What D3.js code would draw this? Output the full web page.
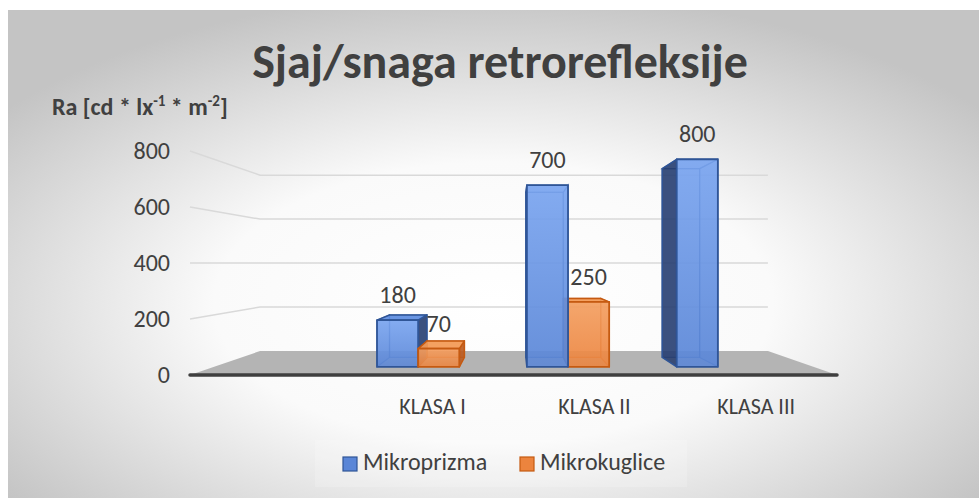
<!DOCTYPE html>
<html>
<head>
<meta charset="utf-8">
<script src="https://cdn.jsdelivr.net/npm/d3@7"></script>
<style>
  html, body { margin: 0; padding: 0; background: #fff; }
  svg { display: block; }
  text { font-family: Calibri, Carlito, Lato, "Open Sans", sans-serif; fill: #404040; }
</style>
</head>
<body>
<svg id="chart" width="979" height="498"></svg>
<script>
// Chart values.
var categories = ["", "KLASA I", "KLASA II", "KLASA III"]; // first category is empty in the source sheet
var seriesNames = ["Mikroprizma", "Mikrokuglice"];
var mikroprizma = [null, 180, 700, 800];
var mikrokuglice = [null, 70, 250, null];
var yTicks = [0, 200, 400, 600, 800];
var yTitle = ["Ra [cd * lx", "-1", " * m", "-2", "]"];

var seriesColors = [
  { front: ["#7ba6f1", "#5a86d7"], top: "#5f8ee0", side: "#23396b", stroke: "#2f5597" },
  { front: ["#f4a062", "#ec843e"], top: "#f39b58", side: "#b9561a", stroke: "#c55a11" }
];

var width = 979, height = 498;
var svg = d3.select("#chart");
var defs = svg.append("defs");

// Background: radial grey gradient, like the Excel chart style.
var bg = defs.append("radialGradient")
  .attr("id", "bgGrad")
  .attr("cx", 0.5).attr("cy", 0.6).attr("r", 0.64);
bg.append("stop").attr("offset", "0").attr("stop-color", "#ffffff");
bg.append("stop").attr("offset", "0.45").attr("stop-color", "#fafafa");
bg.append("stop").attr("offset", "1").attr("stop-color", "#c4c4c4");

seriesColors.forEach(function(c, i) {
  var g = defs.append("linearGradient")
    .attr("id", "front" + i)
    .attr("x1", 0).attr("y1", 0).attr("x2", 0).attr("y2", 1);
  g.append("stop").attr("offset", "0").attr("stop-color", c.front[0]);
  g.append("stop").attr("offset", "1").attr("stop-color", c.front[1]);
});

svg.append("rect")
  .attr("x", 8).attr("y", 10)
  .attr("width", width - 8).attr("height", height - 10)
  .attr("fill", "url(#bgGrad)");

// Scales work in the front plane of the 3D box; project() maps them into perspective.
var x = d3.scaleBand()
  .domain(categories)
  .range([190, 837])
  .paddingInner(0.176)
  .paddingOuter(0.088);

// Three slots per category: the workbook holds a third, empty series.
var xSeries = d3.scaleBand()
  .domain([0, 1, 2])
  .range([0, x.bandwidth()]);

var y = d3.scaleLinear()
  .domain([0, 800])
  .range([375, 151]);

var vp = { x: 515.8, y: 263.3 };
var depthK = 0.274;
var zFront = 0.29, zBack = 0.68;

function project(X, Y, z) {
  var s = 1 / (1 + depthK * z);
  return [vp.x + (X - vp.x) * s, vp.y + (Y - vp.y) * s];
}

function poly(points) {
  return points.map(function(p) { return p[0].toFixed(2) + "," + p[1].toFixed(2); }).join(" ");
}

var x0 = x.range()[0], x1 = x.range()[1];
var y0 = y(0);

// Gridlines on the back wall and the left wall.
var grid = svg.append("g");
yTicks.filter(function(t) { return t > 0; }).forEach(function(t) {
  var a = project(x0, y(t), 0), b = project(x0, y(t), 1), c = project(x1, y(t), 1);
  grid.append("polyline")
    .attr("points", poly([a, b, c]))
    .attr("fill", "none")
    .attr("stroke", "#d9d9d9")
    .attr("stroke-width", 1.5);
});

// Floor.
svg.append("polygon")
  .attr("points", poly([project(x0, y0, 0), project(x1, y0, 0), project(x1, y0, 1), project(x0, y0, 1)]))
  .attr("fill", "#b4b4b4");
svg.append("line")
  .attr("x1", project(x0, y0, 0)[0]).attr("y1", y0)
  .attr("x2", project(x1, y0, 0)[0]).attr("y2", y0)
  .attr("stroke", "#3f3f3f")
  .attr("stroke-width", 3.5)
  .attr("stroke-linecap", "round");

// Y tick labels.
svg.append("g").selectAll("text")
  .data(yTicks)
  .enter().append("text")
    .attr("x", 170)
    .attr("y", function(d) { return y(d) + 8; })
    .attr("text-anchor", "end")
    .style("font-size", "24px")
    .text(function(d) { return d; });

// Build the bar boxes.
var bars = [];
[mikroprizma, mikrokuglice].forEach(function(values, si) {
  values.forEach(function(v, ci) {
    if (v == null) return;
    var xa = x(categories[ci]) + xSeries(si);
    var xb = xa + xSeries.bandwidth();
    bars.push({ series: si, value: v, xa: xa, xb: xb, cx: (xa + xb) / 2 });
  });
});

// Paint the ones furthest from the vanishing point first.
bars.sort(function(a, b) { return Math.abs(b.cx - vp.x) - Math.abs(a.cx - vp.x); });

var barGroup = svg.append("g");
bars.forEach(function(d) {
  var c = seriesColors[d.series];
  var yt = y(d.value);
  var FTL = project(d.xa, yt, zFront), FTR = project(d.xb, yt, zFront),
      FBL = project(d.xa, y0, zFront), FBR = project(d.xb, y0, zFront),
      BTL = project(d.xa, yt, zBack), BTR = project(d.xb, yt, zBack),
      BBL = project(d.xa, y0, zBack), BBR = project(d.xb, y0, zBack);

  var g = barGroup.append("g");
  var leftOfVp = d.cx < vp.x;
  var below = yt > vp.y;

  // Hidden edges, seen through the transparent faces.
  var hidden = [[BTL, BTR, BBR, BBL]];
  hidden.push(leftOfVp ? [FTL, BTL, BBL, FBL] : [FTR, BTR, BBR, FBR]);
  if (!below) hidden.push([FTL, FTR, BTR, BTL]);
  hidden.forEach(function(p) {
    g.append("polygon")
      .attr("points", poly(p))
      .attr("fill", c.front[1])
      .attr("fill-opacity", 0.35)
      .attr("stroke", c.stroke)
      .attr("stroke-opacity", 0.7)
      .attr("stroke-width", 1.2);
  });

  // Visible side face.
  g.append("polygon")
    .attr("points", poly(leftOfVp ? [FTR, BTR, BBR, FBR] : [FTL, BTL, BBL, FBL]))
    .attr("fill", c.side)
    .attr("fill-opacity", 0.85)
    .attr("stroke", c.stroke)
    .attr("stroke-width", 1.5)
    .attr("stroke-linejoin", "round");

  if (below) {
    g.append("polygon")
      .attr("points", poly([FTL, FTR, BTR, BTL]))
      .attr("fill", c.top)
      .attr("fill-opacity", 0.9)
      .attr("stroke", c.stroke)
      .attr("stroke-width", 1.5)
      .attr("stroke-linejoin", "round");
  }

  g.append("polygon")
    .attr("points", poly([FTL, FTR, FBR, FBL]))
    .attr("fill", "url(#front" + d.series + ")")
    .attr("fill-opacity", 0.88)
    .attr("stroke", c.stroke)
    .attr("stroke-width", 1.8)
    .attr("stroke-linejoin", "round");

  d.labelX = (FTL[0] + FTR[0]) / 2;
  d.labelY = FTL[1] - 17;
});

// Data labels.
svg.append("g").selectAll("text")
  .data(bars)
  .enter().append("text")
    .attr("x", function(d) { return d.labelX; })
    .attr("y", function(d) { return d.labelY; })
    .attr("text-anchor", "middle")
    .style("font-size", "24px")
    .text(function(d) { return d.value; });

// Category labels along the front edge.
svg.append("g").selectAll("text")
  .data(categories.filter(function(c) { return c !== ""; }))
  .enter().append("text")
    .attr("x", function(d) { return x(d) + x.bandwidth() / 2; })
    .attr("y", 414)
    .attr("text-anchor", "middle")
    .style("font-size", "22px")
    .text(function(d) { return d; });

// Title.
svg.append("text")
  .attr("x", 500)
  .attr("y", 78)
  .attr("text-anchor", "middle")
  .style("font-size", "48px")
  .style("font-weight", "bold")
  .text("Sjaj/snaga retrorefleksije");

// Axis title with superscripts.
var yt = svg.append("text")
  .attr("x", 52)
  .attr("y", 115)
  .style("font-size", "24px")
  .style("font-weight", "bold");
yTitle.forEach(function(part, i) {
  var sup = i % 2 === 1;
  yt.append("tspan")
    .attr("dy", sup ? -9 : (i > 0 ? 9 : 0))
    .style("font-size", sup ? "15px" : "24px")
    .text(part);
});

// Legend.
svg.append("rect")
  .attr("x", 315).attr("y", 440)
  .attr("width", 372).attr("height", 47)
  .attr("fill", "#ffffff")
  .attr("fill-opacity", 0.18);

var legendX = [343, 520];
var legend = svg.append("g").selectAll("g")
  .data(seriesNames)
  .enter().append("g")
    .attr("transform", function(d, i) { return "translate(" + legendX[i] + ",457)"; });
legend.append("rect")
  .attr("width", 14).attr("height", 14)
  .attr("fill", function(d, i) { return seriesColors[i].front[1]; })
  .attr("stroke", function(d, i) { return seriesColors[i].stroke; })
  .attr("stroke-width", 1.2);
legend.append("text")
  .attr("x", 20)
  .attr("y", 13)
  .style("font-size", "24px")
  .text(function(d) { return d; });
</script>
</body>
</html>
